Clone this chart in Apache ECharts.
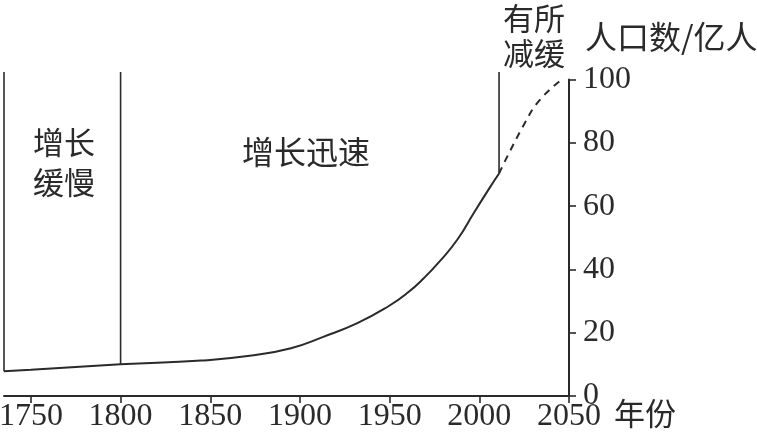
<!DOCTYPE html>
<html><head><meta charset="utf-8">
<script src="https://cdn.jsdelivr.net/npm/echarts@6/dist/echarts.min.js"></script>
<style>html,body{margin:0;padding:0;background:#fff}#c{width:757px;height:436px}</style>
</head><body><div id="c"></div>
<script>
const solidYears  = [1735, 1750, 1800, 1845, 1872, 1895, 1913, 1932, 1950, 1960, 1969, 1978, 1988, 1997, 2006, 2011];
const solidValues = [7.8, 8.3, 10.0, 11.2, 12.7, 15.1, 18.7, 23.0, 28.6, 32.6, 37.2, 42.6, 49.6, 57.9, 66.0, 70.3];
const dashYears   = [2011, 2025.5, 2034, 2046];
const dashValues  = [70.3, 86.4, 93.7, 100];
const dividerYears = [1735, 1800, 2011];
const dividerBottoms = [7.8, 10.0, 70.3];
const dividerTop = 102.4;
const xTicks = [1750, 1800, 1850, 1900, 1950, 2000, 2050];
const yTicks = [0, 20, 40, 60, 80, 100];
const stageLabels = ['增长\n缓慢', '增长迅速', '有所\n减缓'];
const yName = '人口数/亿人';
const xName = '年份';

const ink = '#2a2a2a';
const pair = (xs, ys) => xs.map((x, i) => [x, ys[i]]);

const series = [
  { type: 'line', data: pair(solidYears, solidValues), smooth: true, symbol: 'none',
    lineStyle: { color: ink, width: 2 }, clip: false, z: 5 },
  { type: 'line', data: pair(dashYears, dashValues), smooth: true, symbol: 'none',
    lineStyle: { color: ink, width: 2, type: [7, 6] }, clip: false, z: 5 }
];
dividerYears.forEach((yr, i) => {
  series.push({ type: 'line', data: [[yr, dividerBottoms[i]], [yr, dividerTop]], symbol: 'none',
    lineStyle: { color: ink, width: 1.6 }, clip: false, z: 4 });
});

const chart = echarts.init(document.getElementById('c'), null, { renderer: 'canvas' });
chart.setOption({
  animation: false,
  backgroundColor: '#fff',
  grid: { left: 4, right: 188, top: 79.5, bottom: 40, containLabel: false, outerBoundsMode: 'none' },
  xAxis: {
    type: 'value', min: 1735, max: 2050,
    splitLine: { show: false },
    axisLine: { show: true, lineStyle: { color: ink, width: 2 } },
    axisTick: { show: true, length: 7, lineStyle: { color: ink, width: 1.6 }, customValues: xTicks },
    axisLabel: { customValues: xTicks, color: ink, fontFamily: 'Liberation Serif', fontSize: 32, margin: 5,
      formatter: v => String(v) }
  },
  yAxis: {
    type: 'value', position: 'right', min: 0, max: 100, interval: 20,
    splitLine: { show: false },
    axisLine: { show: true, lineStyle: { color: ink, width: 2 } },
    axisTick: { show: true, length: 7, lineStyle: { color: ink, width: 1.6 } },
    axisLabel: { color: ink, fontFamily: 'Liberation Serif', fontSize: 32, margin: 14,
      formatter: v => yTicks.includes(v) ? String(v) : '' }
  },
  graphic: [
    { type: 'text', left: 33, top: 122, style: { text: stageLabels[0], fill: ink, font: '31px "Noto Sans CJK SC"', lineHeight: 40 } },
    { type: 'text', left: 242, top: 136, style: { text: stageLabels[1], fill: ink, font: '32px "Noto Sans CJK SC"' } },
    { type: 'text', left: 503, top: 1, style: { text: stageLabels[2], fill: ink, font: '31px "Noto Sans CJK SC"', lineHeight: 35 } },
    { type: 'text', left: 585, top: 21, style: { text: yName, fill: ink, font: '32px "Noto Sans CJK SC"' } },
    { type: 'text', left: 614, top: 398, style: { text: xName, fill: ink, font: '31px "Noto Sans CJK SC"' } }
  ],
  series
});
</script></body></html>
